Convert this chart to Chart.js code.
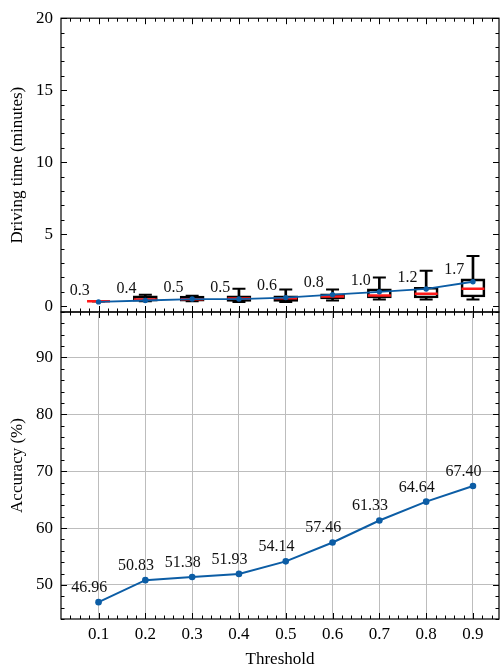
<!DOCTYPE html>
<html>
<head>
<meta charset="utf-8">
<script src="https://cdn.jsdelivr.net/npm/chart.js@4.4.0/dist/chart.umd.min.js"></script>
<style>
  html, body { margin: 0; padding: 0; background: #fff; }
  #wrap { position: relative; width: 500px; height: 670px; }
  #wrap canvas { position: absolute; left: 0; top: 0; }
</style>
</head>
<body>
<div id="wrap">
  <canvas id="timeChart" width="500" height="670"></canvas>
  <canvas id="accChart" width="500" height="670"></canvas>
</div>
<script>
// Threshold values on the shared x axis
const thresholds = [0.1, 0.2, 0.3, 0.4, 0.5, 0.6, 0.7, 0.8, 0.9];

// Driving time distribution per threshold (minutes)
const boxQ1       = [0.34, 0.36, 0.36, 0.34, 0.34, 0.50, 0.57, 0.57, 0.64];
const boxMedian   = [0.34, 0.46, 0.48, 0.53, 0.55, 0.68, 0.75, 0.87, 1.21];
const boxQ3       = [0.34, 0.72, 0.70, 0.72, 0.73, 0.87, 1.21, 1.32, 1.90];
const whiskerLow  = [0.34, 0.34, 0.34, 0.30, 0.30, 0.39, 0.46, 0.46, 0.46];
const whiskerHigh = [0.34, 0.80, 0.72, 1.22, 1.16, 1.16, 2.00, 2.47, 3.49];
const meanTime    = [0.3, 0.4, 0.5, 0.5, 0.6, 0.8, 1.0, 1.2, 1.7];

// Accuracy per threshold (%)
const accuracy = [46.96, 50.83, 51.38, 51.93, 54.14, 57.46, 61.33, 64.64, 67.40];

// Tick labels
const xTicks = [0.1, 0.2, 0.3, 0.4, 0.5, 0.6, 0.7, 0.8, 0.9];
const timeTicks = [0, 5, 10, 15, 20];
const accTicks = [50, 60, 70, 80, 90];

const BLUE = '#0C5DA5';
const SERIF = "'Liberation Serif', 'Times New Roman', serif";
Chart.defaults.color = '#000';
Chart.defaults.font.family = SERIF;

const X_MIN = 0.0198, X_MAX = 0.9556;

// Frame around the plot area plus inward-pointing major/minor ticks on all sides
const frameTicks = {
  id: 'frameTicks',
  afterDraw(chart, args, opts) {
    const { ctx, chartArea: a } = chart;
    const x = chart.scales.x, y = chart.scales.y;
    ctx.save();
    ctx.strokeStyle = '#000';
    ctx.lineWidth = 1.2;
    ctx.strokeRect(a.left, a.top, a.right - a.left, a.bottom - a.top);
    ctx.lineWidth = 1;
    const seg = (x1, y1, x2, y2) => { ctx.beginPath(); ctx.moveTo(x1, y1); ctx.lineTo(x2, y2); ctx.stroke(); };
    const minorVals = (min, max, step, majors) => {
      const out = [];
      for (let k = Math.ceil(min / step - 1e-9); k * step <= max + 1e-9; k++) {
        const v = +(k * step).toFixed(6);
        if (!majors.some(m => Math.abs(m - v) < 1e-6)) out.push(v);
      }
      return out;
    };
    const xMarks = (vals, len) => vals.forEach(v => {
      const p = Math.round(x.getPixelForValue(v)) + 0.5;
      if (p < a.left + 1 || p > a.right - 1) return;
      seg(p, a.bottom, p, a.bottom - len);
      seg(p, a.top, p, a.top + len);
    });
    const yMarks = (vals, len) => vals.forEach(v => {
      const p = Math.round(y.getPixelForValue(v)) + 0.5;
      if (p < a.top - 0.5 || p > a.bottom + 0.5) return;
      seg(a.left, p, a.left + len, p);
      seg(a.right, p, a.right - len, p);
    });
    xMarks(opts.xMajor, 6);
    xMarks(minorVals(x.min, x.max, opts.xMinorStep, opts.xMajor), 3.5);
    yMarks(opts.yMajor, 6);
    yMarks(minorVals(y.min, y.max, opts.yMinorStep, opts.yMajor), 3.5);
    ctx.restore();
  }
};

// Value labels written next to each point, offset in data units
const valueLabels = {
  id: 'valueLabels',
  afterDatasetsDraw(chart, args, opts) {
    const { ctx } = chart;
    const x = chart.scales.x, y = chart.scales.y;
    ctx.save();
    ctx.fillStyle = '#111';
    ctx.font = '16px ' + SERIF;
    ctx.textAlign = 'center';
    ctx.textBaseline = 'middle';
    opts.values.forEach((v, i) => {
      const px = x.getPixelForValue(thresholds[i] + opts.dx);
      const py = y.getPixelForValue(v + opts.dy);
      ctx.fillText(v.toFixed(opts.digits), px, py);
    });
    ctx.restore();
  }
};

const tickFont = { family: SERIF, size: 17 };
const titleFont = { family: SERIF, size: 17 };
const setTicks = vals => scale => { scale.ticks = vals.map(v => ({ value: v })); };

// Upper panel: driving time box plots with the mean line
new Chart(document.getElementById('timeChart'), {
  type: 'bar',
  data: {
    datasets: [
      {
        type: 'bar', label: 'box', grouped: false, order: 5,
        data: thresholds.map((t, i) => ({ x: t, y: [boxQ1[i], boxQ3[i]] })),
        barThickness: 24, borderColor: '#000', borderWidth: 2,
        backgroundColor: 'rgba(0,0,0,0)', borderSkipped: false
      },
      {
        type: 'bar', label: 'upper whisker', grouped: false, order: 6,
        data: thresholds.map((t, i) => ({ x: t, y: [boxQ3[i], whiskerHigh[i]] })),
        barThickness: 2, backgroundColor: '#000', borderWidth: 0
      },
      {
        type: 'bar', label: 'lower whisker', grouped: false, order: 6,
        data: thresholds.map((t, i) => ({ x: t, y: [whiskerLow[i], boxQ1[i]] })),
        barThickness: 2, backgroundColor: '#000', borderWidth: 0
      },
      {
        type: 'line', label: 'caps', order: 4, showLine: false,
        data: thresholds.flatMap((t, i) => [{ x: t, y: whiskerLow[i] }, { x: t, y: whiskerHigh[i] }]),
        pointStyle: 'line', pointRadius: 6.5, pointBorderWidth: 2,
        pointBorderColor: '#000', borderColor: '#000'
      },
      {
        type: 'line', label: 'median', order: 2, showLine: false,
        data: thresholds.map((t, i) => ({ x: t, y: boxMedian[i] })),
        pointStyle: 'line', pointRadius: 11.5, pointBorderWidth: 2.5,
        pointBorderColor: '#FF1A1A', borderColor: '#FF1A1A'
      },
      {
        type: 'line', label: 'mean', order: 1,
        data: thresholds.map((t, i) => ({ x: t, y: meanTime[i] })),
        borderColor: BLUE, borderWidth: 1.8, pointRadius: 2.7,
        pointBackgroundColor: BLUE, pointBorderColor: BLUE, pointBorderWidth: 0,
        tension: 0
      }
    ]
  },
  options: {
    responsive: false, animation: false, devicePixelRatio: 1,
    layout: { autoPadding: false, padding: { top: 14, bottom: 358, left: 0, right: 1 } },
    plugins: {
      legend: { display: false }, tooltip: { enabled: false },
      frameTicks: { xMajor: xTicks, xMinorStep: 0.02, yMajor: timeTicks, yMinorStep: 1 },
      valueLabels: { values: meanTime, dx: -0.04, dy: 0.8, digits: 1 }
    },
    scales: {
      x: {
        type: 'linear', min: X_MIN, max: X_MAX, offset: false, display: false,
        grid: { offset: false }
      },
      y: {
        min: -0.4, max: 20,
        afterBuildTicks: setTicks(timeTicks),
        afterFit: s => { s.width = 61; },
        grid: { display: false, drawTicks: false },
        border: { display: false },
        ticks: { padding: 8, font: tickFont, color: '#000' },
        title: { display: true, text: 'Driving time (minutes)', font: titleFont, color: '#000', padding: { top: 7, bottom: 0 } }
      }
    }
  },
  plugins: [frameTicks, valueLabels]
});

// Lower panel: accuracy line
new Chart(document.getElementById('accChart'), {
  type: 'line',
  data: {
    datasets: [{
      label: 'Accuracy',
      data: thresholds.map((t, i) => ({ x: t, y: accuracy[i] })),
      borderColor: BLUE, borderWidth: 2, pointRadius: 3.3,
      pointBackgroundColor: BLUE, pointBorderColor: BLUE, pointBorderWidth: 0,
      tension: 0
    }]
  },
  options: {
    responsive: false, animation: false, devicePixelRatio: 1,
    layout: { autoPadding: false, padding: { top: 312, bottom: 0, left: 0, right: 1 } },
    plugins: {
      legend: { display: false }, tooltip: { enabled: false },
      frameTicks: { xMajor: xTicks, xMinorStep: 0.02, yMajor: accTicks, yMinorStep: 2 },
      valueLabels: { values: accuracy, dx: -0.02, dy: 2.5, digits: 2 }
    },
    scales: {
      x: {
        type: 'linear', min: X_MIN, max: X_MAX, offset: false,
        afterBuildTicks: setTicks(xTicks),
        afterFit: s => { s.height = 51; },
        grid: { color: '#bdbdbd', lineWidth: 1, drawTicks: false },
        border: { display: false },
        ticks: { padding: 5, font: tickFont, color: '#000', maxRotation: 0, callback: v => v.toFixed(1) },
        title: { display: true, text: 'Threshold', font: titleFont, color: '#000', padding: { top: 0, bottom: 0 } }
      },
      y: {
        min: 44, max: 98,
        afterBuildTicks: setTicks(accTicks),
        afterFit: s => { s.width = 61; },
        grid: { color: '#bdbdbd', lineWidth: 1, drawTicks: false },
        border: { display: false },
        ticks: { padding: 8, font: tickFont, color: '#000' },
        title: { display: true, text: 'Accuracy (%)', font: titleFont, color: '#000', padding: { top: 7, bottom: 0 } }
      }
    }
  },
  plugins: [frameTicks, valueLabels]
});
</script>
</body>
</html>
